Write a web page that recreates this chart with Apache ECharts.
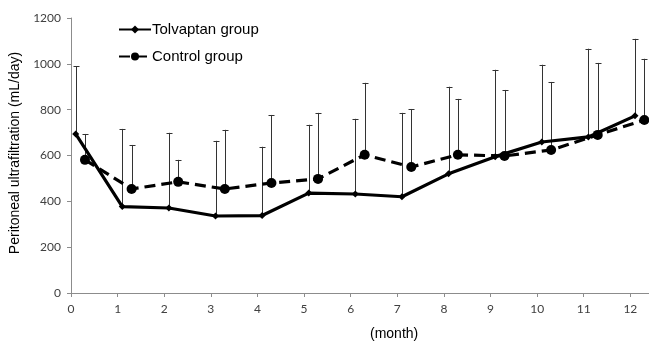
<!DOCTYPE html>
<html>
<head>
<meta charset="utf-8">
<script src="https://cdn.jsdelivr.net/npm/echarts@6/dist/echarts.min.js"></script>
<style>html,body{margin:0;padding:0;background:#fff}#c{width:649px;height:341px}</style>
</head>
<body>
<div id="c"></div>
<script>
// ---- data ----
const months = [0, 1, 2, 3, 4, 5, 6, 7, 8, 9, 10, 11, 12];
const tolvMonth = [0.1, 1.1, 2.1, 3.1, 4.1, 5.1, 6.1, 7.1, 8.1, 9.1, 10.1, 11.1, 12.1];
const ctrlMonth = [0.3, 1.3, 2.3, 3.3, 4.3, 5.3, 6.3, 7.3, 8.3, 9.3, 10.3, 11.3, 12.3];
const tolvMean  = [694, 377, 371, 336, 338, 436, 432, 420, 520, 595, 659, 681, 773];
const tolvUpper = [990, 716, 699, 664, 638, 734, 760, 786, 900, 974, 996, 1066, 1109];
const ctrlMean  = [581, 454, 485, 454, 480, 498, 603, 550, 603, 598, 624, 690, 755];
const ctrlUpper = [694, 646, 581, 712, 777, 786, 917, 803, 847, 886, 921, 1004, 1022];
const yTicks = [0, 200, 400, 600, 800, 1000, 1200];
const seriesNames = ['Tolvaptan group', 'Control group'];
const xTitle = '(month)';
const yTitle = 'Peritoneal ultrafiltration (mL/day)';

const tolvData = tolvMonth.map((m, i) => [m, tolvMean[i]]);
const ctrlData = ctrlMonth.map((m, i) => [m, ctrlMean[i]]);
const tolvErr = tolvMonth.map((m, i) => [m, tolvMean[i], tolvUpper[i]]);
const ctrlErr = ctrlMonth.map((m, i) => [m, ctrlMean[i], ctrlUpper[i]]);

function errRender(params, api) {
  const x = api.value(0), lo = api.value(1), hi = api.value(2);
  const p1 = api.coord([x, lo]), p2 = api.coord([x, hi]);
  const st = { stroke: '#333', lineWidth: 1 };
  return {
    type: 'group',
    children: [
      { type: 'line', shape: { x1: Math.round(p1[0]) + 0.5, y1: p1[1], x2: Math.round(p2[0]) + 0.5, y2: p2[1] }, style: st },
      { type: 'line', shape: { x1: Math.round(p2[0]) - 2.5, y1: Math.round(p2[1]) + 0.5, x2: Math.round(p2[0]) + 3.5, y2: Math.round(p2[1]) + 0.5 }, style: st }
    ]
  };
}

const chart = echarts.init(document.getElementById('c'), null, { renderer: 'canvas' });
chart.setOption({
  animation: false,
  backgroundColor: '#fff',
  grid: { left: 71, right: 0, top: 18, bottom: 48, containLabel: false },
  legend: {
    orient: 'vertical',
    left: 113,
    top: 17,
    itemWidth: 32,
    itemHeight: 10,
    itemGap: 12,
    data: seriesNames,
    textStyle: { fontFamily: 'Liberation Sans', fontSize: 15, color: '#000', padding: [0, 0, 0, -4] }
  },
  xAxis: {
    type: 'value',
    min: 0,
    max: 12.4,
    interval: 1,
    splitLine: { show: false },
    axisLine: { lineStyle: { color: '#8c8c8c', width: 1 } },
    axisTick: { show: true, length: 4, lineStyle: { color: '#8c8c8c' }, customValues: months },
    axisLabel: { customValues: months, margin: 10, fontFamily: 'Lato', fontSize: 12, color: '#404040' }
  },
  yAxis: {
    type: 'value',
    min: 0,
    max: 1200,
    interval: 200,
    splitLine: { show: false },
    axisLine: { show: true, lineStyle: { color: '#8c8c8c', width: 1 } },
    axisTick: { show: true, length: 4, lineStyle: { color: '#8c8c8c' } },
    axisLabel: { margin: 10, fontFamily: 'Lato', fontSize: 12, color: '#404040',
      formatter: v => (yTicks.indexOf(v) >= 0 ? String(v) : '') }
  },
  graphic: [
    { type: 'text', left: 370, top: 327, style: { text: xTitle, fontFamily: 'Liberation Sans', fontSize: 14, fill: '#000', align: 'center' } },
    { type: 'text', x: 8, y: 153, rotation: Math.PI / 2, style: { text: yTitle, fontFamily: 'Liberation Sans', fontSize: 14, fill: '#000', align: 'center', verticalAlign: 'top' } }
  ],
  series: [
    { type: 'custom', name: 'tolvErr', renderItem: errRender, data: tolvErr, encode: { x: 0, y: [1, 2] }, z: 1, silent: true },
    { type: 'custom', name: 'ctrlErr', renderItem: errRender, data: ctrlErr, encode: { x: 0, y: [1, 2] }, z: 1, silent: true },
    {
      type: 'line', name: seriesNames[0], data: tolvData, z: 3,
      symbol: 'diamond', symbolSize: 7,
      lineStyle: { color: '#000', width: 3.2 },
      itemStyle: { color: '#000' }
    },
    {
      type: 'line', name: seriesNames[1], data: ctrlData, z: 2,
      symbol: 'circle', symbolSize: 10,
      lineStyle: { color: '#000', width: 3.2, type: [11, 6] },
      itemStyle: { color: '#000' }
    }
  ]
});
</script>
</body>
</html>
